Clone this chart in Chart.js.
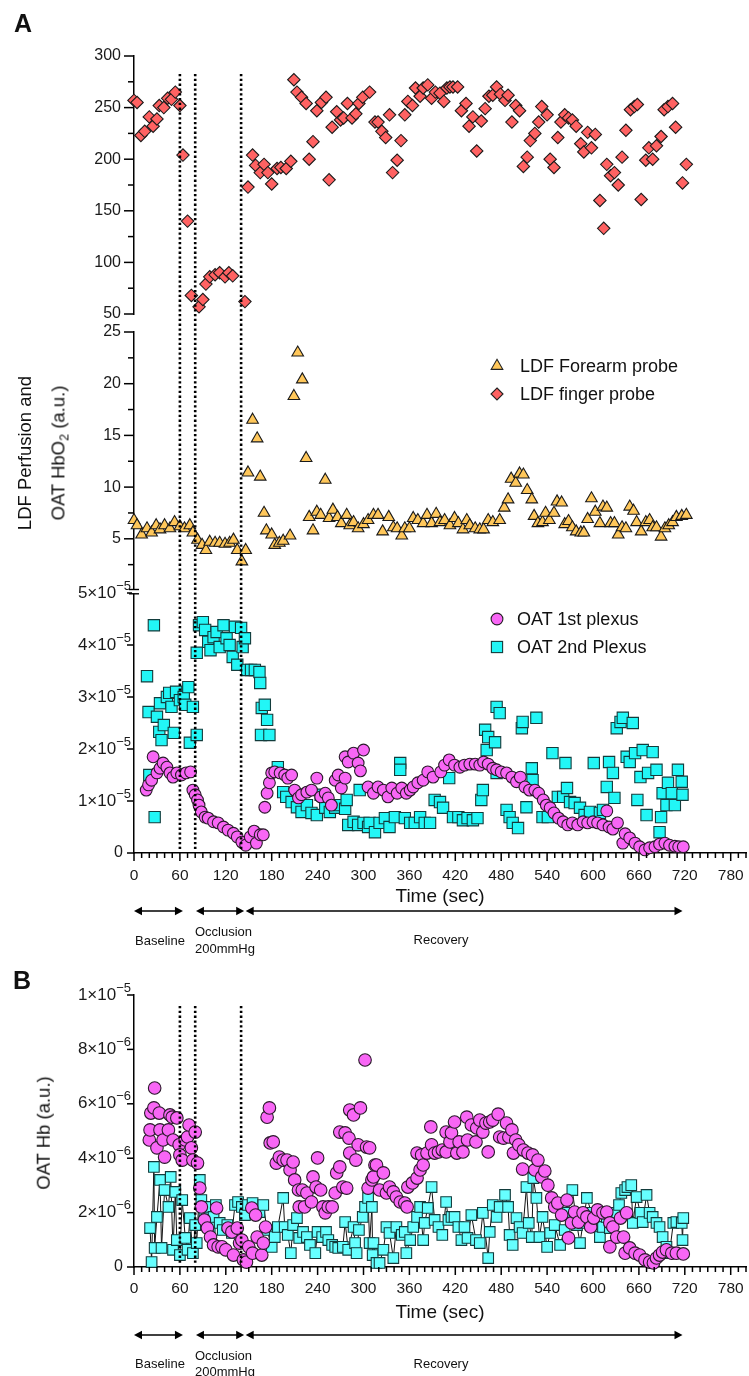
<!DOCTYPE html>
<html><head><meta charset="utf-8"><title>LDF perfusion and OAT</title>
<script src="https://cdn.jsdelivr.net/npm/chart.js@4.4.1/dist/chart.umd.min.js"></script>
<style>
html,body{margin:0;padding:0;background:#fff}
#fig{position:relative;width:749px;height:1376px;overflow:hidden;font-family:"Liberation Sans",Arial,Helvetica,sans-serif;color:#111}
#fig canvas{position:absolute;left:0;top:0;width:749px;height:1376px}
.lbl{position:absolute;white-space:nowrap;line-height:1;transform:translate(-50%,-50%)}
.lft{position:absolute;white-space:nowrap;line-height:1;transform:translate(0,-50%)}
.rot{transform:translate(-50%,-50%) rotate(-90deg)}
.mk{position:absolute;width:18px;height:18px}
.sub{font-size:0.68em;vertical-align:-0.28em}
</style></head>
<body><div id="fig">
<canvas id="cTop" width="749" height="1376"></canvas>
<canvas id="cMid" width="749" height="1376"></canvas>
<canvas id="cOat" width="749" height="1376"></canvas>
<canvas id="cHb" width="749" height="1376"></canvas>

<div class="lbl" style="left:23px;top:23px;font-size:25px;font-weight:bold">A</div>
<div class="lbl" style="left:22px;top:980px;font-size:25px;font-weight:bold">B</div>
<div class="lbl rot" style="left:25px;top:453px;font-size:18.5px">LDF Perfusion and</div>
<div class="lbl rot" style="left:60px;top:453px;font-size:18.5px">OAT HbO<span class="sub">2</span> (a.u.)</div>
<div class="lbl rot" style="left:44px;top:1133px;font-size:18.5px">OAT Hb (a.u.)</div>
<div class="lbl" style="left:440px;top:895px;font-size:19px">Time (sec)</div>
<div class="lbl" style="left:440px;top:1311px;font-size:19px">Time (sec)</div>

<div class="lbl" style="left:160px;top:940px;font-size:13px">Baseline</div>
<div class="lft" style="left:195px;top:931px;font-size:13px">Occlusion</div>
<div class="lft" style="left:195px;top:948px;font-size:13px">200mmHg</div>
<div class="lbl" style="left:441px;top:939px;font-size:13px">Recovery</div>
<div class="lbl" style="left:160px;top:1363px;font-size:13px">Baseline</div>
<div class="lft" style="left:195px;top:1355px;font-size:13px">Occlusion</div>
<div class="lft" style="left:195px;top:1371px;font-size:13px">200mmHg</div>
<div class="lbl" style="left:441px;top:1363px;font-size:13px">Recovery</div>

<svg class="mk" style="left:488px;top:357px" viewBox="-9 -9 18 18"><polygon points="0,-6.7 5.8,3.35 -5.8,3.35" fill="#FFC75A" stroke="#222" stroke-width="1.1"/></svg>
<div class="lft" style="left:520px;top:366px;font-size:18px">LDF Forearm probe</div>
<svg class="mk" style="left:488px;top:385px" viewBox="-9 -9 18 18"><polygon points="0,-6 6,0 0,6 -6,0" fill="#FF6262" stroke="#222" stroke-width="1.1"/></svg>
<div class="lft" style="left:520px;top:394px;font-size:18px">LDF finger probe</div>
<svg class="mk" style="left:488px;top:610px" viewBox="-9 -9 18 18"><circle cx="0" cy="0" r="5.9" fill="#F866F5" stroke="#222" stroke-width="1.1"/></svg>
<div class="lft" style="left:517px;top:619px;font-size:18px">OAT 1st plexus</div>
<svg class="mk" style="left:488px;top:638px" viewBox="-9 -9 18 18"><rect x="-5.6" y="-5.6" width="11.2" height="11.2" fill="#22F6F6" stroke="#123c3c" stroke-width="1.1"/></svg>
<div class="lft" style="left:517px;top:647px;font-size:18px">OAT 2nd Plexus</div>
</div>
<script>
// ---------------- data ----------------
const timeTicks = [0,60,120,180,240,300,360,420,480,540,600,660,720,780];
const timeTickLabels = ['0','60','120','180','240','300','360','420','480','540','600','660','720','780'];
const fingerTicks = [50,100,150,200,250,300];
const fingerTickLabels = ['50','100','150','200','250','300'];
const fingerMinor = [75,125,175,225,275];
const forearmTicks = [5,10,15,20,25];
const forearmTickLabels = ['5','10','15','20','25'];
const forearmMinor = [2.5,7.5,12.5,17.5,22.5];
const oatTicks = [0,1e-5,2e-5,3e-5,4e-5,5e-5];
const oatTickLabels = ['0','1×10^−5','2×10^−5','3×10^−5','4×10^−5','5×10^−5'];
const hbTicks = [0,2e-6,4e-6,6e-6,8e-6,1e-5];
const hbTickLabels = ['0','2×10^−6','4×10^−6','6×10^−6','8×10^−6','1×10^−5'];
const phaseMarks = [60,80,140];                       // dotted lines (sec)
const phases = [[0,64],[81,144],[146,717]];          // Baseline, Occlusion, Recovery arrows (sec)

// LDF finger probe [time s, perfusion a.u.]
const fingerProbe = [[0,257],[4,255],[9,223],[14,227],[20,241],[25,232],[30,239],[33,252],[39,250],[44,259],[49,258],[54,265],[60,252],[64,204],[70,140],[75,68],[85,57],[90,64],[94,79],[99,86],[106,88],[112,90],[119,86],[124,90],[129,87],[145,62],[149,173],[155,204],[159,194],[165,187],[170,195],[175,187],[180,176],[187,191],[192,192],[199,191],[205,198],[209,277],[213,265],[219,260],[225,254],[229,200],[234,217],[239,247],[245,255],[251,260],[255,180],[259,231],[265,246],[270,238],[274,240],[279,254],[285,240],[290,244],[294,254],[299,260],[308,265],[315,236],[319,236],[324,227],[329,221],[334,243],[338,187],[344,199],[349,218],[354,243],[358,256],[364,252],[368,269],[374,261],[378,269],[384,272],[389,259],[394,265],[400,264],[405,256],[409,269],[413,270],[417,270],[423,270],[428,247],[434,254],[438,232],[443,241],[448,208],[454,237],[459,249],[464,261],[469,262],[474,270],[479,263],[485,257],[489,262],[494,236],[499,252],[504,247],[509,193],[514,202],[518,218],[524,225],[529,236],[533,251],[540,243],[544,200],[549,192],[554,221],[558,236],[563,243],[568,240],[573,238],[578,232],[584,215],[588,207],[593,226],[598,211],[603,224],[609,160],[614,133],[618,195],[623,184],[628,187],[633,175],[638,202],[643,228],[649,248],[654,251],[658,253],[663,161],[669,199],[673,211],[678,200],[683,213],[689,222],[693,248],[698,251],[704,254],[708,231],[717,177],[722,195]];

// LDF forearm probe [time s, perfusion a.u.]
const forearmProbe = [[0,6.8],[4,6.3],[10,5.4],[17,6.0],[23,5.6],[29,6.3],[34,5.9],[40,6.3],[47,6.0],[53,6.6],[60,6.2],[66,6.0],[73,6.3],[77,5.6],[83,4.9],[89,4.4],[94,3.9],[99,4.7],[106,4.6],[112,4.6],[119,4.5],[125,4.6],[130,4.9],[135,3.9],[141,2.8],[146,3.9],[149,11.4],[155,16.5],[161,14.7],[165,11.0],[170,7.5],[173,5.8],[180,5.4],[184,4.4],[190,4.6],[195,4.8],[204,5.3],[209,18.8],[214,23.0],[220,20.4],[225,12.8],[229,7.1],[234,5.8],[239,7.6],[244,7.3],[250,10.7],[255,7.0],[260,7.8],[266,7.1],[271,6.5],[278,7.3],[282,6.3],[287,6.6],[293,6.0],[300,6.4],[306,6.8],[313,7.3],[319,7.3],[325,5.7],[333,7.1],[339,6.1],[344,6.0],[350,5.3],[354,6.0],[360,6.0],[365,7.0],[371,6.8],[378,6.5],[383,7.3],[389,6.5],[395,7.4],[400,6.6],[406,6.8],[413,6.3],[419,7.0],[424,6.5],[430,5.9],[435,6.8],[439,6.3],[446,6.0],[452,5.9],[457,5.9],[463,6.8],[469,6.6],[478,6.8],[484,8.0],[489,8.8],[493,10.8],[499,10.4],[504,11.3],[509,11.2],[514,9.7],[520,8.8],[523,7.2],[528,6.5],[534,6.6],[538,7.5],[543,6.8],[549,7.5],[553,8.6],[559,8.5],[563,6.4],[568,6.7],[573,6.1],[578,5.7],[584,5.6],[588,5.6],[593,6.9],[598,8.9],[603,7.6],[609,6.5],[613,8.1],[618,8.0],[623,6.5],[628,6.5],[633,5.4],[638,6.1],[643,6.0],[648,8.1],[653,7.7],[657,6.6],[663,5.7],[669,6.6],[674,6.8],[678,6.1],[683,6.1],[689,5.2],[694,6.0],[699,6.3],[704,6.6],[709,7.1],[716,7.2],[722,7.3]];

// OAT HbO2, values in units of 1e-5 a.u. [time s, value]
const HBO2_UNIT = 1e-5;
const oat1Hbo2 = [[16,1.21],[19,1.31],[23,1.40],[25,1.85],[30,1.54],[34,1.63],[38,1.73],[43,1.65],[47,1.54],[51,1.46],[56,1.54],[62,1.50],[68,1.54],[74,1.56],[77,1.21],[80,1.12],[83,1.02],[85,0.92],[88,0.79],[93,0.69],[97,0.67],[104,0.60],[110,0.58],[117,0.50],[123,0.44],[130,0.38],[135,0.31],[141,0.21],[146,0.15],[152,0.31],[157,0.42],[160,0.19],[165,0.35],[169,0.35],[171,0.88],[174,1.15],[177,1.35],[180,1.54],[184,1.56],[191,1.54],[197,1.50],[201,1.44],[206,1.50],[210,1.21],[215,1.06],[219,1.12],[226,1.17],[232,1.21],[239,1.44],[244,1.08],[250,1.15],[254,1.06],[258,0.92],[263,1.40],[267,1.50],[271,1.25],[276,1.44],[276,1.85],[280,1.75],[287,1.92],[293,1.73],[296,1.58],[300,1.98],[306,1.27],[313,1.15],[319,1.27],[326,1.21],[332,1.08],[337,1.25],[344,1.15],[350,1.25],[356,1.15],[361,1.21],[365,1.27],[371,1.35],[378,1.40],[384,1.56],[391,1.46],[401,1.56],[406,1.69],[412,1.79],[419,1.69],[426,1.65],[432,1.69],[439,1.71],[446,1.71],[452,1.69],[457,1.75],[463,1.71],[469,1.63],[474,1.60],[480,1.56],[487,1.54],[494,1.46],[500,1.37],[505,1.46],[511,1.27],[517,1.21],[524,1.21],[529,1.15],[535,1.02],[539,0.92],[544,0.87],[549,0.77],[555,0.67],[561,0.60],[567,0.54],[573,0.58],[580,0.54],[587,0.60],[593,0.58],[600,0.60],[606,0.58],[613,0.54],[618,0.81],[621,0.50],[626,0.46],[632,0.58],[639,0.19],[642,0.37],[648,0.29],[655,0.19],[661,0.12],[668,0.06],[674,0.10],[681,0.12],[687,0.17],[694,0.19],[700,0.15],[707,0.13],[712,0.12],[718,0.12]];
const oat2Hbo2 = [[17,3.40],[19,2.71],[20,1.50],[26,4.38],[27,0.69],[30,2.62],[33,2.33],[34,2.88],[36,2.17],[39,2.46],[43,3.00],[46,3.08],[49,2.81],[52,2.31],[55,3.10],[60,2.94],[65,3.00],[67,2.85],[71,3.19],[73,2.12],[77,2.81],[82,2.27],[82,3.85],[85,4.38],[90,4.44],[93,4.29],[97,4.06],[100,3.90],[104,4.15],[108,4.25],[112,3.96],[117,4.38],[121,4.13],[125,4.00],[129,3.77],[132,4.35],[135,3.62],[140,4.33],[142,3.96],[145,4.13],[148,3.52],[153,3.52],[158,3.52],[164,3.48],[165,3.27],[166,2.27],[167,2.79],[171,2.85],[174,2.56],[177,2.27],[188,1.65],[195,1.17],[199,1.08],[206,0.98],[213,0.88],[219,0.79],[226,0.92],[232,0.77],[239,0.73],[244,1.12],[250,0.87],[256,0.79],[263,0.87],[269,0.92],[276,0.85],[278,1.02],[280,0.54],[287,0.60],[293,0.54],[295,1.21],[300,0.58],[306,0.50],[308,0.58],[315,0.40],[321,0.58],[328,0.67],[334,0.50],[341,0.69],[348,1.73],[348,1.60],[354,0.67],[361,0.58],[367,0.58],[374,0.69],[380,0.58],[387,0.58],[393,1.02],[400,0.98],[404,0.87],[412,1.44],[417,0.69],[424,0.69],[430,0.63],[436,0.67],[443,0.63],[449,0.67],[454,1.02],[456,1.21],[459,2.37],[461,1.98],[463,2.23],[472,2.13],[474,2.81],[474,1.54],[478,2.69],[487,0.83],[491,0.69],[495,0.58],[502,0.48],[507,2.40],[508,2.52],[513,0.88],[520,1.63],[521,1.40],[526,2.60],[534,0.69],[541,0.69],[547,1.92],[554,1.08],[561,1.08],[564,1.73],[566,1.25],[570,0.98],[576,0.96],[583,0.87],[589,0.73],[596,0.79],[601,1.73],[609,0.77],[613,0.83],[618,1.27],[621,1.75],[626,1.54],[628,1.06],[631,2.40],[636,2.52],[639,2.60],[644,1.85],[648,1.75],[652,2.50],[655,1.92],[658,1.02],[662,1.46],[665,1.98],[670,0.73],[672,1.54],[678,1.94],[683,1.60],[687,0.40],[689,0.69],[691,1.15],[696,0.92],[698,1.35],[703,1.15],[707,0.92],[711,1.60],[716,1.37],[717,1.12]];

// OAT Hb, values in units of 1e-6 a.u. [time s, value]
const HB_UNIT = 1e-6;
const oat1Hb = [[20,4.67],[21,5.04],[22,5.66],[26,5.85],[27,6.58],[30,4.38],[33,5.66],[34,5.04],[38,4.67],[40,4.04],[45,5.04],[47,5.59],[50,5.51],[51,4.67],[56,5.48],[59,4.49],[60,4.12],[63,3.93],[67,4.67],[70,4.78],[72,5.22],[75,4.38],[77,3.93],[80,4.96],[83,3.82],[86,2.90],[88,2.21],[92,1.73],[96,1.43],[100,1.10],[104,0.81],[108,2.17],[110,0.74],[115,0.74],[120,0.63],[123,1.43],[128,1.29],[130,0.44],[135,1.43],[138,0.88],[141,0.99],[143,0.26],[147,0.18],[150,0.74],[154,2.17],[155,0.51],[159,1.91],[161,1.10],[167,0.44],[169,0.88],[172,1.47],[174,5.51],[177,5.85],[178,4.56],[182,4.60],[186,3.82],[190,4.04],[195,3.93],[200,3.93],[204,3.57],[208,3.86],[210,3.20],[215,2.83],[216,2.21],[220,2.83],[223,2.21],[226,2.72],[232,2.39],[234,3.31],[238,2.94],[240,4.01],[244,2.83],[247,2.21],[250,1.99],[254,2.21],[259,2.21],[263,2.72],[265,3.46],[269,3.68],[269,4.96],[273,2.94],[276,4.93],[278,2.90],[281,4.74],[282,5.77],[282,4.19],[287,5.59],[290,3.93],[293,4.49],[296,5.85],[302,7.61],[304,4.41],[306,2.90],[308,4.38],[311,3.20],[313,3.31],[315,3.75],[317,3.75],[321,2.83],[326,3.46],[330,2.72],[334,2.94],[339,2.76],[343,2.57],[348,2.39],[354,2.35],[357,2.21],[358,2.94],[364,3.09],[370,3.27],[370,4.19],[374,3.57],[376,4.12],[378,3.75],[383,4.19],[388,5.15],[389,4.49],[393,4.19],[398,4.23],[403,4.30],[408,4.23],[408,4.96],[413,4.60],[415,4.93],[419,5.33],[422,4.19],[425,4.60],[430,4.23],[435,5.51],[436,4.67],[441,5.22],[447,4.60],[448,5.11],[452,5.40],[456,4.96],[460,5.29],[463,4.23],[465,5.33],[469,5.40],[476,5.62],[478,4.78],[483,4.74],[487,5.29],[490,4.78],[494,5.04],[496,4.19],[499,4.67],[503,4.49],[508,3.60],[509,4.30],[515,4.19],[521,4.12],[524,3.57],[528,3.93],[533,3.31],[537,3.53],[541,3.01],[546,2.54],[550,2.21],[554,2.35],[559,1.91],[566,2.46],[568,1.07],[572,1.62],[576,2.02],[581,1.65],[587,1.99],[592,1.84],[597,1.47],[601,1.80],[606,2.10],[613,1.99],[618,2.02],[622,1.62],[622,0.74],[626,1.47],[631,1.10],[636,1.80],[640,1.10],[642,0.51],[644,1.99],[648,0.70],[655,0.51],[661,0.44],[668,0.26],[674,0.18],[679,0.15],[683,0.33],[687,0.44],[691,0.55],[696,0.63],[703,0.51],[709,0.51],[718,0.48]];
const oat2Hb = [[21,1.43],[23,0.18],[26,3.68],[27,0.70],[30,1.84],[34,3.20],[36,0.70],[40,2.83],[45,2.21],[48,3.31],[51,0.63],[54,2.76],[56,0.99],[60,0.44],[63,2.46],[67,1.07],[70,0.63],[73,1.80],[77,0.51],[80,1.54],[82,0.88],[86,3.20],[88,2.46],[92,1.99],[95,2.21],[99,1.47],[104,1.84],[107,2.28],[112,1.62],[116,1.36],[122,1.54],[128,1.25],[132,2.28],[136,2.39],[141,2.21],[145,1.91],[149,2.28],[155,2.35],[164,2.02],[169,2.28],[174,1.36],[180,0.74],[184,1.10],[188,1.47],[195,2.54],[197,1.47],[201,1.18],[205,0.51],[208,1.54],[213,1.80],[216,1.07],[221,1.29],[226,1.10],[230,0.81],[237,0.51],[240,1.29],[246,1.10],[251,1.29],[254,0.99],[259,0.81],[263,0.74],[267,0.70],[273,0.74],[276,1.65],[280,0.63],[287,1.47],[289,0.88],[291,0.51],[294,1.36],[299,1.84],[302,2.21],[306,2.54],[308,0.88],[311,2.21],[312,0.44],[313,0.88],[317,0.15],[321,0.15],[326,0.63],[330,1.47],[334,1.25],[339,0.33],[343,1.47],[350,1.18],[354,1.29],[356,0.51],[361,0.99],[365,1.47],[370,1.84],[374,2.21],[378,0.99],[380,1.62],[384,2.17],[389,2.94],[393,1.73],[398,1.47],[403,1.18],[408,2.39],[411,1.73],[415,1.84],[419,1.84],[424,1.47],[428,0.99],[432,1.47],[436,1.07],[441,1.91],[447,0.99],[452,0.88],[456,1.99],[463,0.33],[465,1.29],[469,2.28],[474,1.84],[478,2.21],[485,2.65],[489,2.21],[491,1.18],[495,0.81],[500,1.80],[504,1.47],[508,1.25],[513,2.94],[516,1.62],[520,1.10],[522,3.27],[526,2.54],[530,1.10],[534,1.84],[540,0.74],[544,1.25],[550,1.54],[557,0.81],[563,1.36],[567,1.99],[573,2.83],[579,1.54],[583,0.88],[587,1.62],[592,2.54],[598,1.99],[605,1.47],[609,1.10],[613,1.47],[618,1.84],[622,1.43],[628,1.99],[634,2.28],[637,2.72],[642,2.83],[645,2.94],[650,3.01],[652,1.62],[657,2.57],[662,1.99],[665,1.65],[670,2.65],[674,1.99],[678,1.84],[683,1.62],[687,1.47],[691,1.10],[696,0.74],[700,0.51],[705,1.62],[709,1.65],[716,1.62],[717,0.99],[718,1.80]];

// ---------------- rendering ----------------
const FONT = '"Liberation Sans", Arial, Helvetica, sans-serif';
const H = 1376, XH = 34, X_MIN = 0, X_MAX = 800;
const toPts = (arr, unit) => arr.map(([t, v]) => ({x: t, y: v * (unit || 1)}));

function seg(ctx, x1, y1, x2, y2) { ctx.beginPath(); ctx.moveTo(x1, y1); ctx.lineTo(x2, y2); ctx.stroke(); }
function head(ctx, x, y, dir) {
  ctx.beginPath(); ctx.moveTo(x, y); ctx.lineTo(x + dir * 8, y - 4.2); ctx.lineTo(x + dir * 8, y + 4.2); ctx.closePath(); ctx.fill();
}
function drawTickLabel(ctx, label, right, y) {
  ctx.textBaseline = 'middle';
  if (label.indexOf('^') < 0) {
    ctx.font = '16px ' + FONT; ctx.textAlign = 'right'; ctx.fillText(label, right - 8, y); return;
  }
  const [m, e] = label.split('^');
  ctx.textAlign = 'left';
  ctx.font = '13px ' + FONT; const we = ctx.measureText(e).width;
  ctx.font = '17px ' + FONT; const wm = ctx.measureText(m).width;
  ctx.fillText(m, right - we - wm, y);
  ctx.font = '13px ' + FONT; ctx.fillText(e, right - we, y - 7);
}

const decor = {
  id: 'decor',
  afterDatasetsDraw(chart, args, o) {
    const ctx = chart.ctx, ca = chart.chartArea, xs = chart.scales.x, ys = chart.scales.y;
    const ax = ca.left;
    ctx.save();
    ctx.strokeStyle = '#000'; ctx.fillStyle = '#1a1a1a'; ctx.lineWidth = 1.5;
    (o.yMinor || []).forEach(v => { const y = ys.getPixelForValue(v); seg(ctx, ax - o.minorLen, y, ax, y); });
    o.yMajor.forEach(v => { const y = ys.getPixelForValue(v); seg(ctx, ax - o.majorLen, y, ax, y); });
    if (o.expLabels) o.yMajor.forEach((v, i) => drawTickLabel(ctx, o.expLabels[i], ax - 3, ys.getPixelForValue(v)));
    if (o.xAxis) {
      for (let t = X_MIN; t <= X_MAX; t += 10) {
        const x = xs.getPixelForValue(t);
        seg(ctx, x, ca.bottom, x, ca.bottom + (t % 60 === 0 ? 8 : 5));
      }
    }
    if (o.breakMark) {
      ctx.fillStyle = '#fff'; ctx.fillRect(ax - 2, ca.top - 3.5, 4, 4);
      ctx.lineWidth = 1.4;
      seg(ctx, ax - 5, ca.top - 3.5, ax + 5, ca.top - 3.5);
      seg(ctx, ax - 5, ca.top + 0.8, ax + 5, ca.top + 0.8);
      ctx.fillStyle = '#1a1a1a';
    }
    if (o.dotted) {
      ctx.lineWidth = 2.6; ctx.setLineDash([2.3, 2.5]);
      phaseMarks.forEach(t => { const x = xs.getPixelForValue(t); seg(ctx, x, o.dotted[0], x, o.dotted[1]); });
      ctx.setLineDash([]);
    }
    if (o.arrowsY) {
      const y = o.arrowsY; ctx.lineWidth = 1.6; ctx.fillStyle = '#000';
      phases.forEach(([a, b]) => {
        const x1 = xs.getPixelForValue(a), x2 = xs.getPixelForValue(b);
        seg(ctx, x1 + 6, y, x2 - 6, y); head(ctx, x1, y, 1); head(ctx, x2, y, -1);
      });
    }
    ctx.restore();
  }
};

function makeChart(id, cfg) {
  return new Chart(document.getElementById(id), {
    type: 'scatter',
    data: {datasets: cfg.datasets},
    options: {
      responsive: false, maintainAspectRatio: false, animation: false, events: [],
      layout: {autoPadding: false, padding: {left: 0, right: 3, top: cfg.top, bottom: cfg.showX ? H - cfg.bottom - XH : H - cfg.bottom}},
      plugins: {legend: {display: false}, tooltip: {enabled: false}, decor: cfg.decor},
      scales: {
        x: {
          type: 'linear', min: X_MIN, max: X_MAX, display: cfg.showX,
          afterFit: s => { if (cfg.showX) { s.height = XH; s.paddingLeft = 0; s.paddingRight = 0; } },
          afterBuildTicks: s => { s.ticks = timeTicks.concat([X_MAX]).map(v => ({value: v})); },
          ticks: {autoSkip: false, maxRotation: 0, minRotation: 0, padding: cfg.xPad || 12, color: '#1a1a1a',
                  font: {family: FONT, size: 15.5}, callback: (v, i) => timeTickLabels[i] || ''},
          grid: {display: false, drawTicks: false},
          border: {display: true, color: '#000', width: 1.5}
        },
        y: {
          type: 'linear', min: cfg.yMin, max: cfg.yMax,
          afterFit: s => { s.width = 134; s.paddingTop = 0; s.paddingBottom = 0; },
          afterBuildTicks: s => { s.ticks = cfg.yTicks.map(v => ({value: v})); },
          ticks: {display: !cfg.decor.expLabels, autoSkip: false, padding: 13, color: '#1a1a1a',
                  font: {family: FONT, size: 16}, callback: (v, i) => (cfg.yTickLabels || [])[i]},
          grid: {display: false, drawTicks: false},
          border: {display: true, color: '#000', width: 1.5}
        }
      }
    },
    plugins: [decor]
  });
}

makeChart('cTop', {
  top: 56, bottom: 314, showX: false, yMin: 50, yMax: 300, yTicks: fingerTicks, yTickLabels: fingerTickLabels,
  decor: {yMajor: fingerTicks, yMinor: fingerMinor, majorLen: 10, minorLen: 6},
  datasets: [{label: 'LDF finger probe', data: toPts(fingerProbe), pointStyle: 'rectRot', pointRadius: 6.2,
              backgroundColor: '#FF6262', borderColor: '#1a1a1a', borderWidth: 1.1, clip: false}]
});
makeChart('cMid', {
  top: 332, bottom: 590.5, showX: false, yMin: 0, yMax: 25, yTicks: forearmTicks, yTickLabels: forearmTickLabels,
  decor: {yMajor: forearmTicks, yMinor: forearmMinor, majorLen: 10, minorLen: 6},
  datasets: [{label: 'LDF Forearm probe', data: toPts(forearmProbe), pointStyle: 'triangle', pointRadius: 6.7,
              backgroundColor: '#FFC75A', borderColor: '#1a1a1a', borderWidth: 1.1, clip: false}]
});
makeChart('cOat', {
  top: 593, bottom: 853, showX: true, xPad: 13, yMin: 0, yMax: 5e-5, yTicks: oatTicks,
  decor: {yMajor: oatTicks, expLabels: oatTickLabels, majorLen: 7, xAxis: true, breakMark: true, dotted: [74, 851], arrowsY: 911},
  datasets: [
    {label: 'OAT 1st plexus', data: toPts(oat1Hbo2, HBO2_UNIT), pointStyle: 'circle', pointRadius: 5.9,
     backgroundColor: '#F866F5', borderColor: '#2a1a2a', borderWidth: 1.1, clip: false},
    {label: 'OAT 2nd Plexus', data: toPts(oat2Hbo2, HBO2_UNIT), pointStyle: 'rect', pointRadius: 8,
     backgroundColor: '#22F6F6', borderColor: '#123c3c', borderWidth: 1.1, clip: false}
  ]
});
makeChart('cHb', {
  top: 995, bottom: 1267, showX: true, xPad: 12, yMin: 0, yMax: 1e-5, yTicks: hbTicks,
  decor: {yMajor: hbTicks, expLabels: hbTickLabels, majorLen: 7, xAxis: true, dotted: [1006, 1265], arrowsY: 1335},
  datasets: [
    {label: 'OAT 1st plexus', data: toPts(oat1Hb, HB_UNIT), pointStyle: 'circle', pointRadius: 6.3,
     backgroundColor: '#F866F5', borderColor: '#2a1a2a', borderWidth: 1.1, clip: false},
    {label: 'OAT 2nd Plexus', data: toPts(oat2Hb, HB_UNIT), showLine: true, borderColor: '#111', borderWidth: 1,
     pointStyle: 'rect', pointRadius: 7.5, pointBackgroundColor: '#66FFFF', pointBorderColor: '#123c3c',
     pointBorderWidth: 1.1, clip: false}
  ]
});
</script>
</body></html>
